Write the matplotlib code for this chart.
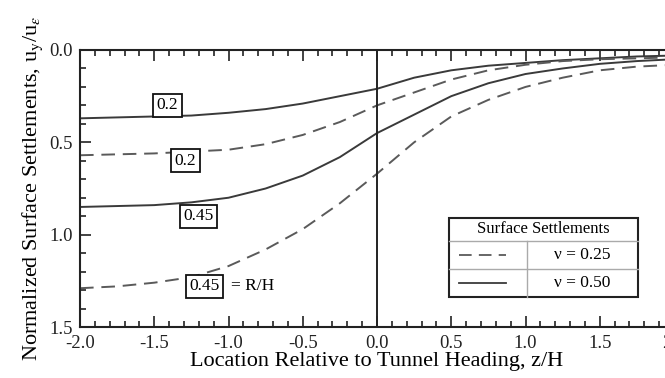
import matplotlib
matplotlib.use("Agg")
import matplotlib.pyplot as plt
from matplotlib.ticker import MultipleLocator

plt.rcParams['font.family'] = ['Liberation Serif', 'DejaVu Serif']
plt.rcParams['mathtext.fontset'] = 'stix'

z = [-2.0, -1.75, -1.5, -1.25, -1.0, -0.75, -0.5, -0.25, 0.0, 0.25, 0.5, 0.75, 1.0, 1.25, 1.5, 1.75, 2.0]
solid_02 = [0.37, 0.365, 0.36, 0.355, 0.34, 0.32, 0.29, 0.25, 0.21, 0.15, 0.11, 0.085, 0.07, 0.055, 0.045, 0.035, 0.03]
dashed_02 = [0.57, 0.565, 0.56, 0.55, 0.54, 0.51, 0.46, 0.39, 0.30, 0.23, 0.16, 0.11, 0.08, 0.06, 0.05, 0.045, 0.04]
solid_045 = [0.85, 0.845, 0.84, 0.825, 0.80, 0.75, 0.68, 0.58, 0.45, 0.35, 0.25, 0.18, 0.13, 0.10, 0.075, 0.06, 0.05]
dashed_045 = [1.29, 1.28, 1.26, 1.23, 1.17, 1.08, 0.97, 0.83, 0.67, 0.50, 0.36, 0.27, 0.20, 0.15, 0.11, 0.09, 0.08]

labels = ["0.2", "0.2", "0.45", "0.45"]
label_pos = [(-1.41, 0.30), (-1.29, 0.60), (-1.20, 0.90), (-1.16, 1.28)]

fig = plt.figure(figsize=(6.65, 3.78), dpi=100)
ax = fig.add_axes([80/665, 51/378, 594/665, 277/378])

solid_c = '#3a3a3a'
dash_c = '#5a5a5a'
for y in (solid_02, solid_045):
    ax.plot(z, y, color=solid_c, lw=1.4)
for y in (dashed_02, dashed_045):
    ax.plot(z, y, color=dash_c, lw=1.4, dashes=(7, 4))

ax.axvline(0.0, color='#222222', lw=1.4)

ax.set_xlim(-2.0, 2.0)
ax.set_ylim(1.5, 0.0)
ax.xaxis.set_minor_locator(MultipleLocator(0.1))
ax.yaxis.set_minor_locator(MultipleLocator(0.1))
ax.set_xticks([-2.0, -1.5, -1.0, -0.5, 0.0, 0.5, 1.0, 1.5, 2.0])
ax.set_xticklabels(['-2.0', '-1.5', '-1.0', '-0.5', '0.0', '0.5', '1.0', '1.5', '2.0'])
ax.set_yticks([0.0, 0.5, 1.0, 1.5])
ax.set_yticklabels(['0.0', '0.5', '1.0', '1.5'])
ax.tick_params(which='both', direction='in', top=True, right=False, colors='#222222',
               labelsize=13.5, width=1.2)
ax.tick_params(which='major', length=8)
ax.tick_params(axis='x', which='major', pad=6)
ax.tick_params(axis='y', which='major', pad=5)
ax.tick_params(which='minor', length=4.5)
for s in ('left', 'bottom', 'top'):
    ax.spines[s].set_linewidth(1.5)
    ax.spines[s].set_color('#222222')
ax.spines['right'].set_visible(False)

ax.set_xlabel('Location Relative to Tunnel Heading, z/H', fontsize=16, labelpad=0)
ax.set_ylabel(r'Normalized Surface Settlements, u$_{\mathrm{y}}$/u$_{\varepsilon}$', fontsize=16, labelpad=3)

for t, (x, y) in zip(labels, label_pos):
    ax.text(x, y, t, fontsize=12.5, ha='center', va='center',
            bbox=dict(boxstyle='square,pad=0.2', fc='white', ec='#111111', lw=1.3))
ax.text(-0.98, 1.28, '= R/H', fontsize=12.5, ha='left', va='center')

# legend table
fx = lambda px: px / 665
fy = lambda py: 1 - py / 378
L, R, T, B = 449, 638, 218, 297
mid = 527
r1, r2 = 241, 269
fig.add_artist(plt.Rectangle((fx(L), fy(B)), fx(R) - fx(L), fy(T) - fy(B),
                             transform=fig.transFigure, fc='white', ec='#222222', lw=1.5, zorder=5))
for yy in (r1, r2):
    fig.add_artist(plt.Line2D([fx(L), fx(R)], [fy(yy), fy(yy)], transform=fig.transFigure,
                              color='#aaaaaa', lw=1.0, zorder=6))
fig.add_artist(plt.Line2D([fx(mid), fx(mid)], [fy(r1), fy(B)], transform=fig.transFigure,
                          color='#aaaaaa', lw=1.0, zorder=6))
fig.text(fx((L + R) / 2), fy((T + r1) / 2), 'Surface Settlements', fontsize=12,
         ha='center', va='center', zorder=7)
fig.add_artist(plt.Line2D([fx(459), fx(506)], [fy((r1 + r2) / 2)] * 2, transform=fig.transFigure,
                          color=dash_c, lw=1.3, dashes=(7, 4), zorder=7))
fig.add_artist(plt.Line2D([fx(459), fx(506)], [fy((r2 + B) / 2)] * 2, transform=fig.transFigure,
                          color=solid_c, lw=1.3, zorder=7))
fig.text(fx((mid + R) / 2), fy((r1 + r2) / 2), 'ν = 0.25', fontsize=12.5,
         ha='center', va='center', zorder=7)
fig.text(fx((mid + R) / 2), fy((r2 + B) / 2), 'ν = 0.50', fontsize=12.5,
         ha='center', va='center', zorder=7)

fig.savefig('out.png', dpi=100)
